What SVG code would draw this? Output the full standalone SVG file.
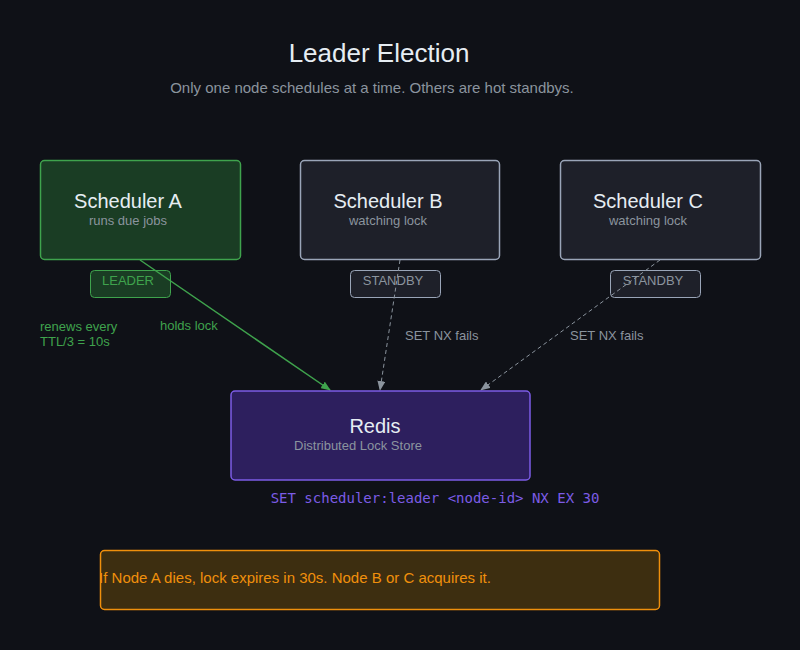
<svg xmlns="http://www.w3.org/2000/svg" width="800" height="650" viewBox="0 0 800 650">
<defs>
<style>
text{font-family:"Liberation Sans",Arial,sans-serif}
.t{fill:#e6edf3;font-size:20px}
.s{fill:#8b949e;font-size:13px}
.g{fill:#3fa34d;font-size:13px}
.gr{fill:#8b949e;font-size:13px}
</style>
<marker id="ag" markerWidth="10" markerHeight="8" refX="9" refY="4" orient="auto" markerUnits="userSpaceOnUse"><path d="M0,0L10,4L0,8z" fill="#3fa34d"/></marker>
<marker id="ab" markerWidth="10" markerHeight="8" refX="9" refY="4" orient="auto" markerUnits="userSpaceOnUse"><path d="M0,0L10,4L0,8z" fill="#8b949e"/></marker>
</defs>
<rect width="800" height="650" fill="#0f1117"/>
<text x="379" y="62" text-anchor="middle" style="fill:#e6edf3;font-size:26px">Leader Election</text>
<text x="372" y="93" text-anchor="middle" style="fill:#8b949e;font-size:15px">Only one node schedules at a time. Others are hot standbys.</text>
<g id="schedA">
<rect x="40.5" y="160.5" width="200" height="99" rx="4" fill="#1a3d24" stroke="#3fa34d" stroke-width="1.5"/>
<text x="128" y="208" text-anchor="middle" class="t">Scheduler A</text>
<text x="128" y="225" text-anchor="middle" class="s">runs due jobs</text>
<rect x="90.5" y="270.5" width="80" height="27" rx="4" fill="#1a3d24" stroke="#3fa34d"/>
<text x="128" y="285" text-anchor="middle" class="g">LEADER</text>
</g>
<g id="schedB">
<rect x="300.5" y="160.5" width="199" height="99" rx="4" fill="#1e2029" stroke="#9aa5b8" stroke-width="1.5"/>
<text x="388" y="208" text-anchor="middle" class="t">Scheduler B</text>
<text x="388" y="225" text-anchor="middle" class="s">watching lock</text>
<rect x="350.5" y="270.5" width="90" height="27" rx="4" fill="#1e2029" stroke="#9aa5b8"/>
<text x="393" y="285" text-anchor="middle" class="gr">STANDBY</text>
</g>
<g id="schedC">
<rect x="560.5" y="160.5" width="200" height="99" rx="4" fill="#1e2029" stroke="#9aa5b8" stroke-width="1.5"/>
<text x="648" y="208" text-anchor="middle" class="t">Scheduler C</text>
<text x="648" y="225" text-anchor="middle" class="s">watching lock</text>
<rect x="610.5" y="270.5" width="90" height="27" rx="4" fill="#1e2029" stroke="#9aa5b8"/>
<text x="653" y="285" text-anchor="middle" class="gr">STANDBY</text>
</g>
<g id="connectors">
<line x1="140" y1="260" x2="330" y2="390" stroke="#3fa34d" stroke-width="1.5" marker-end="url(#ag)"/>
<line x1="400" y1="260" x2="380" y2="390" stroke="#8b949e" stroke-dasharray="4,3" marker-end="url(#ab)"/>
<line x1="660" y1="260" x2="481" y2="390" stroke="#8b949e" stroke-dasharray="4,3" marker-end="url(#ab)"/>
<text x="160" y="330" class="g">holds lock</text>
<text x="405" y="340" class="gr">SET NX fails</text>
<text x="570" y="340" class="gr">SET NX fails</text>
<text x="40" y="331" class="g">renews every</text>
<text x="40" y="346" class="g">TTL/3 = 10s</text>
</g>
<g id="redis">
<rect x="231" y="391" width="299" height="89" rx="4" fill="#2d1f5e" stroke="#7c5ce6" stroke-width="1.5"/>
<text x="375" y="433" text-anchor="middle" class="t">Redis</text>
<text x="358" y="450" text-anchor="middle" class="s">Distributed Lock Store</text>
<text x="435" y="503" text-anchor="middle" style="fill:#7c5ce6;font-size:14px;font-family:'DejaVu Sans Mono',monospace">SET scheduler:leader &lt;node-id&gt; NX EX 30</text>
</g>
<g id="note">
<rect x="100.5" y="550.5" width="559" height="59" rx="4" fill="#3d2e10" stroke="#f0900c" stroke-width="1.5"/>
<text x="295" y="583" text-anchor="middle" style="fill:#f0900c;font-size:15px">If Node A dies, lock expires in 30s. Node B or C acquires it.</text>
</g>
</svg>
